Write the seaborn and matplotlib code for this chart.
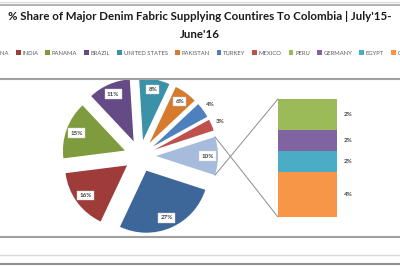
import matplotlib
matplotlib.use("Agg")
import matplotlib.pyplot as plt
from matplotlib.patches import Patch, ConnectionPatch
from matplotlib.lines import Line2D
import numpy as np
import seaborn as sns

# ---- data ----
main_labels = ["CHINA", "INDIA", "PANAMA", "BRAZIL", "UNITED STATES",
               "PAKISTAN", "TURKEY", "MEXICO", "Other"]
main_values = [27, 16, 15, 11, 8, 6, 4, 3, 10]
main_text = ["27%", "16%", "15%", "11%", "8%", "6%", "4%", "3%", "10%"]
main_colors = ["#3D6699", "#9E3C3A", "#7E9B3D", "#654B86", "#3A91A8",
               "#D67A2E", "#4E80BD", "#C0504D", "#A6BCDD"]

sub_labels = ["PERU", "GERMANY", "EGYPT", "OTHERS"]
sub_values = [2.6, 1.8, 1.8, 3.8]
sub_text = ["2%", "2%", "2%", "4%"]
sub_colors = ["#9BBB59", "#8064A2", "#4BACC6", "#F79646"]

sns.set_theme(style="white")
plt.rcParams["font.family"] = ["Lato", "DejaVu Sans"]

W, H = 400, 266
fig = plt.figure(figsize=(4.0, 2.66), dpi=100)
fig.patch.set_facecolor("white")

# pie axes in pixel units (y up)
ax = fig.add_axes([0, 0, 1, 1])

cx, cy, R = 140, H - 156, 62
wedges, _ = ax.pie(main_values, colors=main_colors, startangle=-18,
                   counterclock=False, radius=R, center=(cx, cy),
                   explode=[16] * len(main_values),
                   wedgeprops=dict(linewidth=0), frame=True)
ax.set_xlim(0, W)
ax.set_ylim(0, H)
ax.set_aspect("equal")
ax.axis("off")

for w, t, v in zip(wedges, main_text, main_values):
    ang = np.deg2rad((w.theta1 + w.theta2) / 2)
    wx, wy = w.center
    if v <= 4:
        d = 1.15
        ax.text(wx + d * w.r * np.cos(ang), wy + d * w.r * np.sin(ang), t,
                ha="center", va="center", fontsize=4.5, fontweight="bold",
                color="#404040")
    else:
        d = 0.83
        ax.text(wx + d * w.r * np.cos(ang), wy + d * w.r * np.sin(ang), t,
                ha="center", va="center", fontsize=4.5, fontweight="bold",
                color="#404040",
                bbox=dict(boxstyle="square,pad=0.35", facecolor="white",
                          edgecolor="#d0d0d0", linewidth=0.3))

# bar axes
bx0, by0, bw, bh = 278, H - 217, 59, 118
bax = fig.add_axes([bx0 / W, by0 / H, bw / W, bh / H])
bottoms = np.cumsum([0] + sub_values[::-1][:-1])[::-1]
for val, bot, col, t in zip(sub_values, bottoms, sub_colors, sub_text):
    bax.bar(0, val, bottom=bot, width=1.0, color=col, linewidth=0)
    bax.text(0.5 + 7 / bw, bot + val / 2, t, ha="left", va="center",
             fontsize=4.5, fontweight="bold", color="#404040", clip_on=False)
bax.set_xlim(-0.5, 0.5)
bax.set_ylim(0, sum(sub_values))
bax.axis("off")

# connector lines
other = wedges[-1]
ox, oy = other.center
for th, ybar in [(other.theta1, sum(sub_values)), (other.theta2, 0)]:
    a = np.deg2rad(th)
    p = (ox + other.r * np.cos(a), oy + other.r * np.sin(a))
    con = ConnectionPatch(xyA=p, coordsA=ax.transData, xyB=(-0.5, ybar),
                          coordsB=bax.transData, color="#8c8c8c", lw=0.7)
    fig.add_artist(con)

# title
fig.text(0.5, 1 - 17 / H, "% Share of Major Denim Fabric Supplying Countires To Colombia | July'15-",
         ha="center", va="center", fontsize=8.3, fontweight="bold", color="#1a1a1a")
fig.text(0.5, 1 - 34 / H, "June'16",
         ha="center", va="center", fontsize=8.3, fontweight="bold", color="#1a1a1a")

# legend (clipped at edges as in the reference)
all_labels = main_labels[:-1] + sub_labels
all_colors = main_colors[:-1] + sub_colors
handles = [Patch(facecolor=c, edgecolor="none") for c in all_colors]
leg = fig.legend(handles, all_labels, ncol=len(all_labels), loc="center left",
                 bbox_to_anchor=(-16 / W, 1 - 53 / H), frameon=False,
                 fontsize=4.2, handlelength=0.8, handleheight=0.8,
                 handletextpad=0.3, columnspacing=1.2, borderpad=0,
                 borderaxespad=0)
for t in leg.get_texts():
    t.set_color("#595959")

# frame lines
for y, c, lw in [(1.5, "#dcdcdc", 1.0), (5, "#a6a6a6", 1.2), (79, "#a0a0a0", 1.5),
                 (237, "#a0a0a0", 1.5), (255, "#d9d9d9", 1.0), (264, "#8f8f8f", 1.5)]:
    fig.add_artist(Line2D([0, 1], [1 - y / H, 1 - y / H], transform=fig.transFigure,
                          color=c, lw=lw))

fig.savefig("out.png", dpi=100)
